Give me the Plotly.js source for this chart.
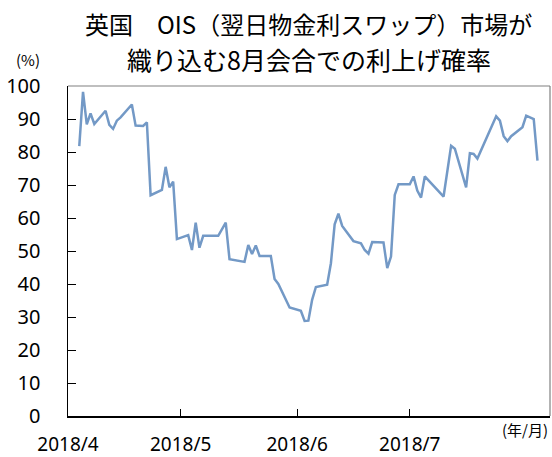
<!DOCTYPE html>
<html>
<head>
<meta charset="utf-8">
<script src="https://cdn.plot.ly/plotly-3.0.1.min.js"></script>
<style>html,body{margin:0;padding:0;background:#fff;}#chart{width:552px;height:457px;}</style>
</head>
<body>
<div id="chart"></div>
<script>
const dates = [
  '2018-04-04','2018-04-05','2018-04-06','2018-04-07','2018-04-08','2018-04-11','2018-04-12','2018-04-13','2018-04-14','2018-04-15',
  '2018-04-18','2018-04-19','2018-04-21','2018-04-22','2018-04-23','2018-04-26','2018-04-27','2018-04-28','2018-04-29','2018-04-30',
  '2018-05-03','2018-05-04','2018-05-05','2018-05-06','2018-05-07','2018-05-11','2018-05-13','2018-05-14','2018-05-18','2018-05-19',
  '2018-05-20','2018-05-21','2018-05-22','2018-05-25','2018-05-26','2018-05-27','2018-05-30','2018-06-02','2018-06-03','2018-06-04',
  '2018-06-05','2018-06-06','2018-06-09','2018-06-10','2018-06-11','2018-06-12','2018-06-13','2018-06-16','2018-06-18','2018-06-19',
  '2018-06-20','2018-06-21','2018-06-24','2018-06-25','2018-06-26','2018-06-27','2018-06-28','2018-07-01','2018-07-02','2018-07-03',
  '2018-07-04','2018-07-05','2018-07-10','2018-07-12','2018-07-13','2018-07-16','2018-07-17','2018-07-18','2018-07-19','2018-07-24',
  '2018-07-25','2018-07-26','2018-07-27','2018-07-28','2018-07-31','2018-08-01','2018-08-03','2018-08-04'
];
const probability = [
  81.8, 98.2, 88.4, 91.7, 88.5, 92.5, 88.2, 87.0, 89.5, 90.5,
  94.4, 88.0, 87.9, 89.0, 66.9, 68.5, 75.5, 69.3, 71.0, 53.6,
  54.8, 50.3, 58.6, 51.0, 54.6, 54.6, 58.6, 47.5, 46.7, 51.8,
  49.1, 51.7, 48.5, 48.5, 41.5, 40.0, 32.9, 31.9, 28.8, 28.9,
  35.2, 39.1, 39.8, 46.3, 58.1, 61.3, 57.6, 53.0, 52.3, 50.3,
  49.2, 52.7, 52.6, 44.8, 48.3, 67.0, 70.2, 70.2, 72.6, 68.3,
  66.2, 72.6, 66.5, 81.9, 81.0, 69.3, 79.6, 79.4, 78.0, 90.8,
  89.5, 84.8, 83.3, 84.8, 87.5, 91.0, 90.0, 77.4
];
const xTickVals = ['2018-04-01','2018-05-01','2018-06-01','2018-07-01'];
const xTickText = ['2018/4','2018/5','2018/6','2018/7'];
const yTickVals = [0,10,20,30,40,50,60,70,80,90,100];

const tickFont = {family:'Noto Sans, sans-serif', size:20, color:'#000'};

const trace = {
  x: dates, y: probability, type:'scatter', mode:'lines',
  line:{color:'#7399c6', width:2.5}, hoverinfo:'skip'
};

const layout = {
  width:552, height:457,
  margin:{l:68, r:2, t:86, b:41, pad:0},
  paper_bgcolor:'#fff', plot_bgcolor:'#fff',
  showlegend:false,
  xaxis:{
    type:'date', range:['2018-04-01','2018-08-07 08:00'],
    tickvals:xTickVals, ticktext:xTickText,
    ticks:'inside', ticklen:7, tickcolor:'#000', tickwidth:1,
    showline:true, linecolor:'#000', linewidth:1.5,
    showgrid:false, zeroline:false,
    tickfont:{family:'Noto Sans, sans-serif', size:19, color:'#000'}, ticklabelstandoff:11
  },
  yaxis:{
    range:[0,100], tickvals:yTickVals,
    ticks:'inside', ticklen:8, tickcolor:'#000', tickwidth:1,
    showline:true, linecolor:'#000', linewidth:1.5,
    showgrid:false, zeroline:false,
    tickfont:tickFont, ticklabelstandoff:22
  },
  shapes:[
    {type:'line', xref:'paper', yref:'paper', x0:0, x1:1, y0:1, y1:1, line:{color:'#808080', width:1.2}},
    {type:'line', xref:'paper', yref:'paper', x0:1, x1:1, y0:0, y1:1, line:{color:'#808080', width:1.2}}
  ],
  annotations:[
    {text:'英国　OIS（翌日物金利スワップ）市場が', xref:'paper', yref:'paper', x:(308-68)/482, y:1+(86-23)/330, xanchor:'center', yanchor:'middle', showarrow:false,
     font:{family:'Noto Sans CJK JP', size:24, color:'#000'}},
    {text:'織り込む8月会合での利上げ確率', xref:'paper', yref:'paper', x:(309-68)/482, y:1+(86-59)/330, xanchor:'center', yanchor:'middle', showarrow:false,
     font:{family:'Noto Sans CJK JP', size:25, color:'#000'}},
    {text:'(%)', xref:'paper', yref:'paper', x:(28-68)/482, y:1+(86-59)/330, xanchor:'center', yanchor:'middle', showarrow:false,
     font:{family:'Noto Sans CJK JP', size:15, color:'#000'}},
    {text:'(年/月)', xref:'paper', yref:'paper', x:(525-68)/482, y:-(429-416)/330, xanchor:'center', yanchor:'middle', showarrow:false,
     font:{family:'Noto Sans CJK JP', size:15, color:'#000'}}
  ]
};

Plotly.newPlot('chart', [trace], layout, {staticPlot:true, displayModeBar:false});
</script>
</body>
</html>
